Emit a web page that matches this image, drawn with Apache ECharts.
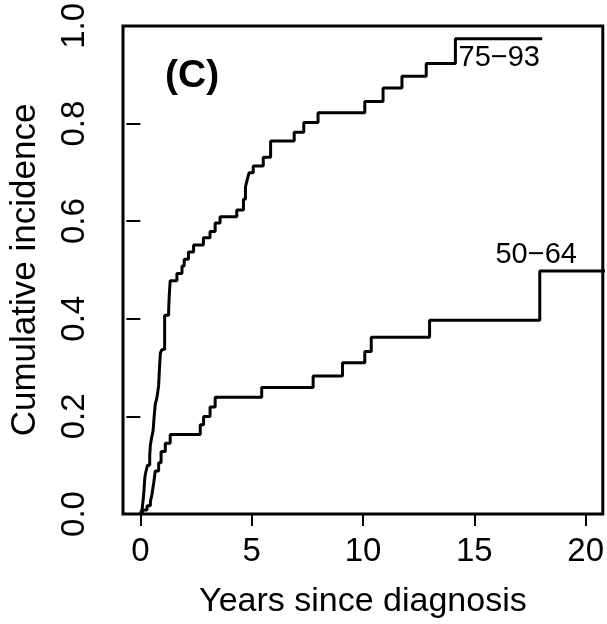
<!DOCTYPE html>
<html>
<head>
<meta charset="utf-8">
<script src="https://cdn.jsdelivr.net/npm/echarts@6/dist/echarts.min.js"></script>
<style>
  html, body { margin: 0; padding: 0; background: #fff; }
  #chart { width: 607px; height: 624px; }
</style>
</head>
<body>
<div id="chart"></div>
<script>
// cumulative incidence steps: time (years) where the curve jumps, and the new level
const oldTimes = [0, 0.08, 0.15, 0.2, 0.24, 0.32, 0.42, 0.45, 0.5, 0.57, 0.62, 0.67, 0.75, 0.82, 0.86, 0.9, 0.97,
  1.09, 1.27, 1.3, 1.34, 1.64, 1.87, 1.97, 2.16, 2.39, 2.83, 3.13, 3.36, 3.58, 4.33, 4.63, 4.72, 4.8, 4.88,
  5.07, 5.52, 5.85, 6.91, 7.34, 7.98, 10.08, 10.9, 11.75, 12.84, 14.15, 18.05]
const oldValues = [0, 0.01, 0.04, 0.075, 0.085, 0.1, 0.12, 0.141, 0.155, 0.17, 0.2, 0.225, 0.24, 0.263, 0.3, 0.33, 0.337,
  0.407, 0.418, 0.45, 0.478, 0.493, 0.508, 0.522, 0.537, 0.551, 0.566, 0.579, 0.596, 0.609, 0.623, 0.645, 0.67, 0.685, 0.699,
  0.713, 0.731, 0.764, 0.782, 0.802, 0.822, 0.845, 0.873, 0.897, 0.923, 0.974, 0.974]

const youngTimes = [0, 0.1, 0.3, 0.45, 0.52, 0.6, 0.67, 0.82, 0.93, 1.12, 1.34, 2.69, 2.84, 3.13, 3.36, 5.45, 7.76, 9.08,
  10.08, 10.37, 12.99, 17.94, 21]
const youngValues = [0, 0.008, 0.017, 0.025, 0.04, 0.064, 0.088, 0.105, 0.128, 0.145, 0.163, 0.183, 0.2, 0.219, 0.239, 0.259,
  0.283, 0.31, 0.333, 0.362, 0.397, 0.498, 0.498]

const xTicks = [0, 5, 10, 15, 20]
const groupNames = ['75\u221293', '50\u221264']

const font = '"Liberation Sans", Arial, sans-serif'

function pairs(xs, ys) {
  return xs.map((x, i) => [x, ys[i]])
}

const chart = echarts.init(document.getElementById('chart'))

chart.setOption({
  animation: false,
  textStyle: { fontFamily: font, color: '#000' },
  title: {
    text: '(C)',
    left: 160,
    top: 52,
    textStyle: { fontFamily: font, fontSize: 39, fontWeight: 'bold', color: '#000' }
  },
  grid: {
    left: 123,
    right: 3,
    top: 25,
    bottom: 104,
    show: true,
    borderColor: '#000',
    borderWidth: 3,
    backgroundColor: 'transparent'
  },
  xAxis: {
    type: 'value',
    min: -0.78,
    max: 20.77,
    name: 'Years since diagnosis',
    nameLocation: 'middle',
    nameGap: 71,
    nameTextStyle: { fontFamily: font, fontSize: 34, color: '#000' },
    axisLine: { show: false },
    axisTick: { show: true, length: 12, customValues: xTicks, lineStyle: { color: '#000', width: 2 } },
    axisLabel: { customValues: xTicks, fontSize: 33, color: '#000', margin: 21, fontFamily: font },
    splitLine: { show: false }
  },
  yAxis: {
    type: 'value',
    min: 0,
    max: 1,
    interval: 0.2,
    name: 'Cumulative incidence',
    nameLocation: 'middle',
    nameRotate: 90,
    nameGap: 80,
    nameTextStyle: { fontFamily: font, fontSize: 35, color: '#000' },
    axisLine: { show: false },
    axisTick: { show: true, length: 14, lineStyle: { color: '#000', width: 2 } },
    axisLabel: {
      rotate: 90,
      fontSize: 33,
      color: '#000',
      margin: 32,
      fontFamily: font,
      formatter: v => v.toFixed(1)
    },
    splitLine: { show: false }
  },
  series: [
    {
      name: groupNames[0],
      type: 'line',
      step: 'end',
      symbol: 'none',
      data: pairs(oldTimes, oldValues),
      lineStyle: { color: '#000', width: 3 },
      markPoint: {
        symbol: 'circle',
        symbolSize: 0,
        data: [{ coord: [14.29, 0.935], value: groupNames[0] }],
        label: {
          show: true,
          position: 'right',
          distance: 0,
          formatter: groupNames[0],
          fontSize: 29,
          color: '#000',
          fontFamily: font
        }
      }
    },
    {
      name: groupNames[1],
      type: 'line',
      step: 'end',
      symbol: 'none',
      data: pairs(youngTimes, youngValues),
      lineStyle: { color: '#000', width: 3 },
      markPoint: {
        symbol: 'circle',
        symbolSize: 0,
        data: [{ coord: [17.78, 0.531], value: groupNames[1] }],
        label: {
          show: true,
          position: 'inside',
          formatter: groupNames[1],
          fontSize: 29,
          color: '#000',
          fontFamily: font
        }
      }
    }
  ]
})

window.addEventListener('resize', () => chart.resize())
</script>
</body>
</html>
